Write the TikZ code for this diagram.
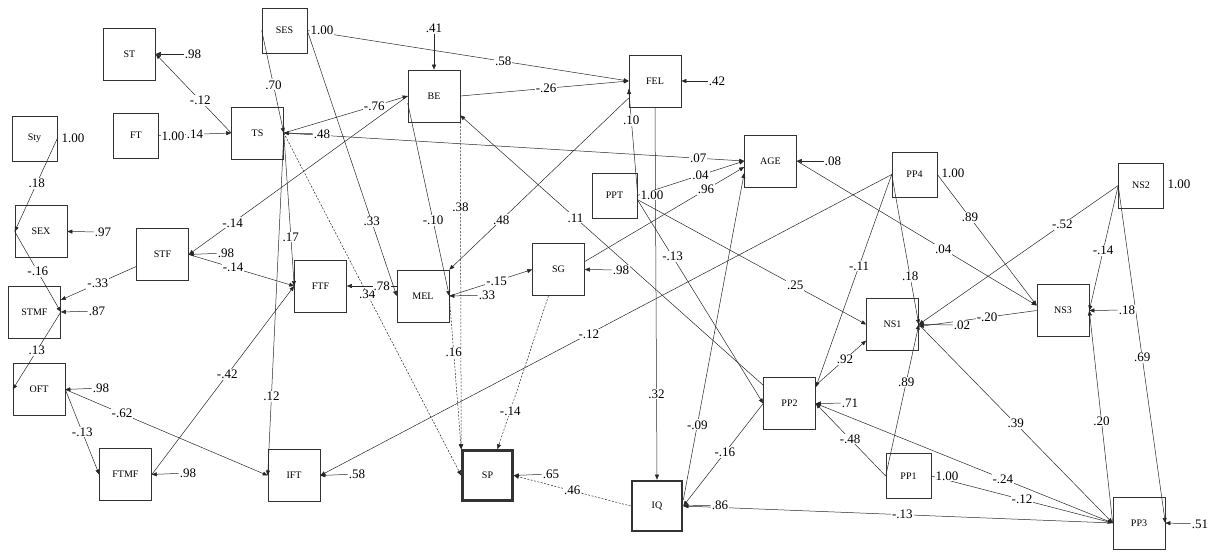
\documentclass[tikz,border=0pt]{standalone}
\usepackage{fontspec}
\setmainfont{Liberation Serif}
\usetikzlibrary{arrows.meta}

\tikzset{
  box/.style={draw=black!80, line width=0.6pt, minimum width=52pt, minimum height=52pt, inner sep=0pt, font=\fontsize{10}{10}\selectfont},
  sbox/.style={box, minimum width=45pt, minimum height=45pt},
  tbox/.style={box, line width=2.6pt, minimum width=50pt, minimum height=50pt},
  arr/.style={-{Triangle[length=5pt,width=4pt]}, line width=0.5pt, draw=black!85},
  dsh/.style={arr, dash pattern=on 2pt off 1.5pt},
  lbl/.style={fill=white, inner sep=1pt, font=\fontsize{13}{13}\selectfont},
  varlbl/.style={lbl}
}

\begin{document}
\begin{tikzpicture}[x=1pt,y=-1pt]
\useasboundingbox (0,0) rectangle (1213,552);

% Boxen
\node[sbox] (SES) at (284.5,30.5) {SES};
\node[box] (ST) at (129.5,54) {ST};
\node[sbox] (Sty) at (34.5,138.5) {Sty};
\node[sbox] (FT) at (136,135.5) {FT};
\node[box] (TS) at (257.5,133) {TS};
\node[box] (SEX) at (41,231.5) {SEX};
\node[box] (STF) at (162.5,254.5) {STF};
\node[box] (STMF) at (34.5,312) {STMF};
\node[box] (OFT) at (39,389.5) {OFT};
\node[box] (FTMF) at (125.5,474.5) {FTMF};
\node[box] (IFT) at (294,475.5) {IFT};
\node[box] (FTF) at (320.5,286) {FTF};
\node[box] (MEL) at (423,296) {MEL};
\node[box] (BE) at (434,96) {BE};
\node[box] (FEL) at (655,81) {FEL};
\node[box] (AGE) at (770.5,161) {AGE};
\node[sbox] (PPT) at (614.5,195.5) {PPT};
\node[box] (SG) at (558.5,269.5) {SG};
\node[tbox] (SP) at (487.5,475.5) {SP};
\node[tbox] (IQ) at (657,506) {IQ};
\node[box] (PP2) at (789.5,403.5) {PP2};
\node[box] (NS1) at (892.5,324.5) {NS1};
\node[sbox] (PP1) at (908.5,476) {PP1};
\node[sbox] (PP4) at (914.5,174.5) {PP4};
\node[sbox] (NS2) at (1141,185.5) {NS2};
\node[box] (NS3) at (1063,310.5) {NS3};
\node[box] (PP3) at (1139,523) {PP3};

% Pfade links
\draw[arr] (TS.west) -- node[lbl,pos=0.41] {-.12} (ST.east);
\draw[arr] (FT.east) -- node[lbl,pos=0.5] {.14} (TS.west);
\draw[arr] (SES.west) -- node[lbl,pos=0.53] {.70} (TS.east);
\draw[arr] (TS.east) -- node[lbl,pos=0.9] {.07} (AGE.west);
\draw[arr] (TS.east) -- node[lbl,pos=0.73] {-.76} (BE.west);
\draw[arr] (TS.east) -- node[lbl,pos=0.68] {.17} (FTF.west);
\draw[arr] (TS.east) -- node[lbl,pos=0.77] {.12} (IFT.west);
\draw[dsh] (TS.east) -- node[lbl,pos=0.47] {.34} (SP.west);
\draw[arr] (BE.west) -- node[lbl,pos=0.8] {-.14} (STF.east);
\draw[arr] (STF.east) -- node[lbl,pos=0.42] {-.14} (FTF.west);
\draw[arr] ([yshift=-12pt]STF.west) -- node[lbl,pos=0.51] {-.33} ([yshift=12pt]STMF.east);
\draw[arr] (Sty.east) -- node[lbl,pos=0.48] {.18} (SEX.west);
\draw[arr] (SEX.west) -- node[lbl,pos=0.5] {-.16} (STMF.east);
\draw[arr] (STMF.east) -- node[lbl,pos=0.5] {.13} (OFT.west);
\draw[arr] (OFT.east) -- node[lbl,pos=0.5] {-.13} (FTMF.west);
\draw[arr] (OFT.east) -- node[lbl,pos=0.28] {-.62} (IFT.west);
\draw[arr] (FTMF.east) -- node[lbl,pos=0.53] {-.42} (FTF.west);
\draw[arr] ([yshift=10pt]MEL.west) -- node[lbl,pos=0.3] {.78} (FTF.east);

% Pfade Mitte
\draw[arr] (SES.east) -- node[lbl,pos=0.72] {.33} (MEL.west);
\draw[arr] (SES.east) -- node[lbl,pos=0.61] {.58} (FEL.west);
\draw[arr] (BE.east) -- node[lbl,pos=0.51] {-.26} (FEL.west);
\draw[arr] ([yshift=-7pt]BE.west) -- node[lbl,pos=0.61] {-.10} (MEL.east);
\draw[arr] ([yshift=-17pt]FEL.west) -- node[lbl,pos=0.71] {.48} (MEL.north east);
\draw[dsh] (BE.south east) -- node[lbl,pos=0.26] {.38} (SP.north west);
\draw[dsh] (MEL.east) -- node[lbl,pos=0.37] {.16} (SP.north west);
\draw[arr] (MEL.east) -- node[lbl,pos=0.57] {-.15} (SG.west);
\draw[arr] ([yshift=8pt]SG.east) -- node[lbl,pos=0.76] {.96} ([yshift=-6pt]AGE.west);
\draw[dsh] ([xshift=-10pt]SG.south) -- node[lbl,pos=0.75] {-.14} ([xshift=10pt]SP.north);
\draw[dsh] (IQ.west) -- node[lbl,pos=0.5] {.46} (SP.east);
\draw[arr] ([yshift=-8pt]PP2.north west) -- node[lbl,pos=0.62] {.11} ([yshift=7pt]BE.south east);
\draw[arr] ([yshift=5pt]PPT.east) -- node[lbl,pos=0.69] {.10} ([yshift=-8pt]FEL.west);
\draw[arr] (PPT.east) -- node[lbl,pos=0.59] {.04} (AGE.west);
\draw[arr] ([yshift=-4pt]PPT.east) -- node[lbl,pos=0.28] {-.13} (PP2.west);
\draw[arr] ([yshift=-4pt]PPT.east) -- node[lbl,pos=0.69] {.25} (NS1.west);
\draw[arr] (FEL.south) -- node[lbl,pos=0.77] {.32} (IQ.north);
\draw[arr] ([yshift=6pt]IQ.east) -- node[lbl,pos=0.23] {-.09} ([yshift=-12pt]AGE.west);
\draw[arr] (PP2.west) -- node[lbl,pos=0.48] {-.16} (IQ.east);
\draw[arr] (PP3.west) -- node[lbl,pos=0.49] {-.13} (IQ.east);

% Pfade rechts
\draw[arr] (AGE.east) -- node[lbl,pos=0.61] {.04} ([yshift=5pt]NS3.west);
\draw[arr] ([yshift=-8pt]PP2.north east) -- node[lbl,pos=0.58] {.92} ([yshift=-16pt]NS1.west);
\draw[arr] (PP4.west) -- node[lbl,pos=0.43] {-.11} ([yshift=-10pt]PP2.north east);
\draw[arr] (PP4.west) -- node[lbl,pos=0.68] {.18} (NS1.east);
\draw[arr] (PP4.west) -- node[lbl,pos=0.53] {-.12} (IFT.east);
\draw[arr] (PP4.east) -- node[lbl,pos=0.33] {.89} ([yshift=5pt]NS3.west);
\draw[arr] (NS2.west) -- node[lbl,pos=0.28] {-.52} (NS1.east);
\draw[arr] (NS2.west) -- node[lbl,pos=0.52] {-.14} (NS3.east);
\draw[arr] (NS2.west) -- node[lbl,pos=0.51] {.69} (PP3.east);
\draw[arr] (NS3.west) -- node[lbl,pos=0.42] {-.20} ([yshift=-2pt]NS1.east);
\draw[arr] (PP3.west) -- node[lbl,pos=0.48] {.20} (NS3.east);
\draw[arr] (NS1.east) -- node[lbl,pos=0.5] {.39} (PP3.west);
\draw[arr] (PP3.west) -- node[lbl,pos=0.37] {-.24} (PP2.east);
\draw[arr] (PP1.east) -- node[lbl,pos=0.5] {-.12} (PP3.west);
\draw[arr] (PP1.west) -- node[lbl,pos=0.51] {-.48} (PP2.east);
\draw[arr] (PP1.west) -- node[lbl,pos=0.62] {.89} (NS1.east);

% Varianzen
\node[varlbl] (vSES) at (322,30) {1.00};
\node[varlbl] (vSty) at (73,138) {1.00};
\node[varlbl] (vFT) at (173,136) {1.00};
\node[varlbl] (vPPT) at (652,195) {1.00};
\node[varlbl] (vPP4) at (953,173) {1.00};
\node[varlbl] (vNS2) at (1179,184) {1.00};
\node[varlbl] (vPP1) at (947,476) {1.00};

% Residuen
\node[lbl] (eST) at (193,54) {.98};
\node[lbl] (eTS) at (322,134) {.48};
\node[lbl] (eSEX) at (103,232) {.97};
\node[lbl] (eSTF) at (226,253) {.98};
\node[lbl] (eSTMF) at (97,311) {.87};
\node[lbl] (eOFT) at (101,388) {.98};
\node[lbl] (eFTMF) at (188,473) {.98};
\node[lbl] (eIFT) at (357,474) {.58};
\node[lbl] (eBE) at (434,28) {.41};
\node[lbl] (eFEL) at (717,81) {.42};
\node[lbl] (eAGE) at (833,161) {.08};
\node[lbl] (eMEL) at (487,295) {.33};
\node[lbl] (eSG) at (621,270) {.98};
\node[lbl] (eSP) at (551,474) {.65};
\node[lbl] (eIQ) at (720,505) {.86};
\node[lbl] (ePP2) at (850,403) {.71};
\node[lbl] (eNS1) at (962,325) {.02};
\node[lbl] (eNS3) at (1127,310) {.18};
\node[lbl] (ePP3) at (1200,524) {.51};

\draw[arr] (eST) -- (ST.east);
\draw[arr] (eTS) -- (TS.east);
\draw[arr] (eSEX) -- (SEX.east);
\draw[arr] (eSTF) -- (STF.east);
\draw[arr] (eSTMF) -- (STMF.east);
\draw[arr] (eOFT) -- (OFT.east);
\draw[arr] (eFTMF) -- (FTMF.east);
\draw[arr] (eIFT) -- (IFT.east);
\draw[arr] (eBE) -- (BE.north);
\draw[arr] (eFEL) -- (FEL.east);
\draw[arr] (eAGE) -- (AGE.east);
\draw[arr] (eMEL) -- (MEL.east);
\draw[arr] (eSG) -- (SG.east);
\draw[arr] (eSP) -- (SP.east);
\draw[arr] (eIQ) -- (IQ.east);
\draw[arr] (ePP2) -- (PP2.east);
\draw[arr] (eNS1) -- (NS1.east);
\draw[arr] (eNS3) -- (NS3.east);
\draw[arr] (ePP3) -- (PP3.east);

\end{tikzpicture}
\end{document}
